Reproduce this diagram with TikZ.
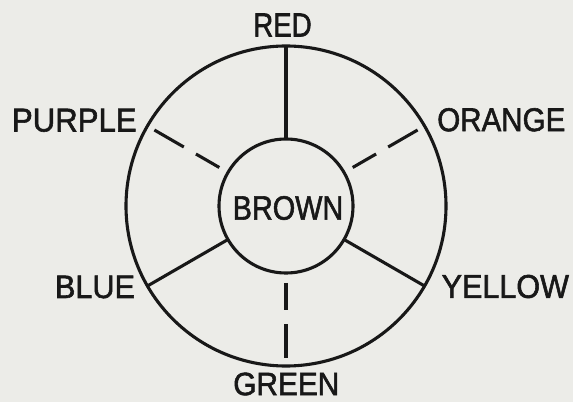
\documentclass[tikz,border=0pt]{standalone}
\usepackage{fontspec}
\setmainfont{Liberation Sans}
\newfontfamily\lettering[FakeBold=1.8]{Liberation Sans}
\usepackage{graphicx}
\definecolor{paper}{RGB}{236,236,232}
\definecolor{ink}{RGB}{24,24,24}
\newcommand{\lbl}[3]{\resizebox{#1pt}{#2pt}{\lettering #3}}
\begin{document}
\begin{tikzpicture}[x=1pt,y=1pt,
  ring/.style={draw=ink,line width=3.1pt,circle,inner sep=0pt,outer sep=0pt},
  spoke/.style={draw=ink,line width=3.1pt},
  word/.style={inner sep=0pt,outer sep=0pt,text=ink,anchor=center}]
\fill[paper] (0,0) rectangle (573,402);
\useasboundingbox (0,0) rectangle (573,402);
\coordinate (c) at (286,196);
\node[ring,minimum size=320pt] (outer) at (c) {};
\node[ring,minimum size=134pt] (inner) at (c) {};
\node[word] (brown) at (288,194) {\lbl{110.6}{23.5}{BROWN}};
% solid spokes (primary)
\draw[spoke] (inner.90) -- (outer.90);
\draw[spoke] (inner.-30) -- (outer.-30);
\draw[spoke] (inner.210) -- (outer.210);
% dashed spokes (secondary)
\foreach \a in {30,150,270}{
  \draw[spoke] ([shift={(\a:77)}]c) -- ([shift={(\a:104)}]c);
  \draw[spoke] ([shift={(\a:118)}]c) -- ([shift={(\a:152)}]c);
}
\node[word] (red) at (282.5,377) {\lbl{58.4}{23}{RED}};
\node[word] (purple) at (74.3,281.7) {\lbl{124.7}{22.7}{PURPLE}};
\node[word] (orange) at (501.3,282.2) {\lbl{128}{23}{ORANGE}};
\node[word] (blue) at (95,115) {\lbl{80}{22.3}{BLUE}};
\node[word] (yellow) at (505.3,115.5) {\lbl{127.3}{23}{YELLOW}};
\node[word] (green) at (286.3,18) {\lbl{106}{22.5}{GREEN}};
\end{tikzpicture}
\end{document}
